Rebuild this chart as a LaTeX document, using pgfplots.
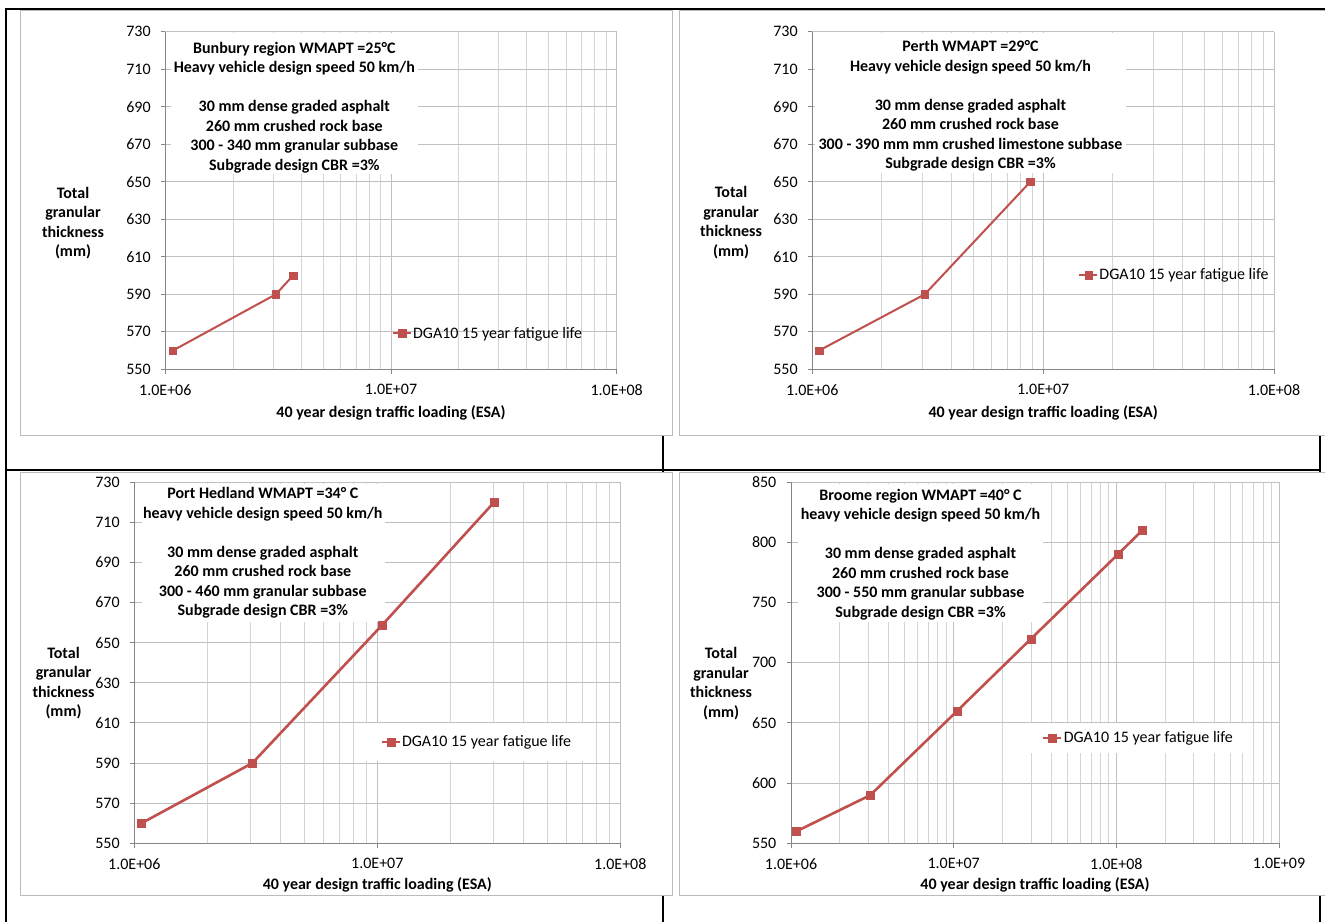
\documentclass[border=0pt]{standalone}
\usepackage{fontspec}
\setmainfont{Carlito}
\usepackage{pgfplots}
\pgfplotsset{compat=1.18}
\definecolor{ser}{HTML}{C0504D}
\definecolor{axl}{HTML}{868686}
\definecolor{gmaj}{HTML}{C0C0C0}
\definecolor{gmin}{HTML}{D4D4D4}
\definecolor{cab}{HTML}{BBBBBB}
\newcommand{\fs}{\fontsize{16}{19.5}\selectfont}
\pgfplotsset{
    scale only axis, enlargelimits=false,
    axis lines*=left,
    axis line style={axl, line width=1pt},
    tick align=outside,
    major tick length=4.5pt, minor tick length=0pt,
    tick style={axl, line width=1pt},
    xmajorgrids, xminorgrids, ymajorgrids,
    major grid style={gmaj, line width=1pt},
    minor grid style={gmin, line width=1pt},
    tick label style={font=\fs},
    yticklabel style={/pgf/number format/assume math mode=true, anchor=east, inner sep=0pt, xshift=-10pt},
    xticklabel style={anchor=center, inner sep=0pt, yshift=-16pt},
    legend cell align=left,
    legend image code/.code={\draw[mark repeat=2,mark phase=2,#1] plot coordinates {(0pt,0pt) (9pt,0pt) (18pt,0pt)};},
}
\begin{document}
\begin{tikzpicture}
\useasboundingbox (0pt,0pt) rectangle (1325pt,-922pt);
\begin{scope}[x=1pt,y=-1pt]
  \draw[line width=2pt] (5,8.5) -- (1325,8.5);
  \draw[line width=2pt] (5.7,8) -- (5.7,922);
  \draw[line width=2pt] (5,470) -- (1320,470);
  \draw[line width=2pt] (663,435) -- (663,922);
  \draw[line width=2pt] (1320,8) -- (1320,922);
  \filldraw[fill=white, draw=cab, line width=1pt] (20.7,10) rectangle (672.7,435);
  \filldraw[fill=white, draw=cab, line width=1pt] (679,10) rectangle (1330,435);
  \filldraw[fill=white, draw=cab, line width=1pt] (20.7,472) rectangle (672.7,895);
  \filldraw[fill=white, draw=cab, line width=1pt] (679,472) rectangle (1330,895);
\end{scope}

% Panel 1: Bunbury
\begin{axis}[xmode=log, at={(165.3pt,-369.3pt)}, anchor=south west,
  width=451.4pt, height=337.6pt,
  xmin=1e6, xmax=1e8, ymin=550, ymax=730, ytick={550,570,...,730},
  xtick={1e6,1e7,1e8}, xticklabels={1.0E+06,1.0E+07,1.0E+08},
  minor xtick={2e6,3e6,4e6,5e6,6e6,7e6,8e6,9e6,2e7,3e7,4e7,5e7,6e7,7e7,8e7,9e7},
  xlabel={40 year design traffic loading (ESA)},
  ylabel={Total\\granular\\thickness\\(mm)},
  xlabel style={font=\bfseries\fs, at={(axis description cs:0.5,-0.1286)}, anchor=center},
  ylabel style={rotate=-90, font=\bfseries\fs, align=center, at={(axis description cs:-0.2045,0.4334)}, anchor=center},
  legend style={font=\fs, draw=none, fill=none, inner sep=0pt, nodes={inner sep=1pt}, at={(rel axis cs:0.502,0.1066)}, anchor=west},
]
\fill[white] (rel axis cs:0.0126,0.9962) rectangle (rel axis cs:0.5605,0.5785);
\node[align=center, font=\bfseries\fs] at (rel axis cs:0.2858,0.776) {Bunbury region WMAPT =25°C\\Heavy vehicle design speed 50 km/h\\[19.5pt]30 mm dense graded asphalt\\260 mm crushed rock base\\300 - 340 mm granular subbase\\Subgrade design CBR =3\%};
\addplot[color=ser, line width=2pt, mark=square*, mark size=3.75pt, mark options={solid, fill=ser, draw=ser, line width=0.4pt}] coordinates {(1.08e6,560) (3.09e6,590) (3.68e6,600)};
\addlegendentry{DGA10 15 year fatigue life}
\end{axis}

% Panel 2: Perth
\begin{axis}[xmode=log, at={(812.3pt,-369.3pt)}, anchor=south west,
  width=461.7pt, height=337.6pt,
  xmin=1e6, xmax=1e8, ymin=550, ymax=730, ytick={550,570,...,730},
  xtick={1e6,1e7,1e8}, xticklabels={1.0E+06,1.0E+07,1.0E+08},
  minor xtick={2e6,3e6,4e6,5e6,6e6,7e6,8e6,9e6,2e7,3e7,4e7,5e7,6e7,7e7,8e7,9e7},
  xlabel={40 year design traffic loading (ESA)},
  ylabel={Total\\granular\\thickness\\(mm)},
  xlabel style={font=\bfseries\fs, at={(axis description cs:0.5,-0.1286)}, anchor=center},
  ylabel style={rotate=-90, font=\bfseries\fs, align=center, at={(axis description cs:-0.176,0.435)}, anchor=center},
  legend style={font=\fs, draw=none, fill=none, inner sep=0pt, nodes={inner sep=1pt}, at={(rel axis cs:0.576,0.2793)}, anchor=west},
]
\fill[white] (rel axis cs:0.0058,0.9962) rectangle (rel axis cs:0.6794,0.5824);
\node[align=center, font=\bfseries\fs] at (rel axis cs:0.3426,0.7805) {Perth WMAPT =29°C\\Heavy vehicle design speed 50 km/h\\[19.5pt]30 mm dense graded asphalt\\260 mm crushed rock base\\300 - 390 mm mm crushed limestone subbase\\Subgrade design CBR =3\%};
\addplot[color=ser, line width=2pt, mark=square*, mark size=3.75pt, mark options={solid, fill=ser, draw=ser, line width=0.4pt}] coordinates {(1.07e6,560) (3.07e6,590) (8.8e6,650)};
\addlegendentry{DGA10 15 year fatigue life}
\end{axis}

% Panel 3: Port Hedland
\begin{axis}[xmode=log, at={(134.3pt,-843.3pt)}, anchor=south west,
  width=486pt, height=361pt,
  xmin=1e6, xmax=1e8, ymin=550, ymax=730, ytick={550,570,...,730},
  xtick={1e6,1e7,1e8}, xticklabels={1.0E+06,1.0E+07,1.0E+08},
  minor xtick={2e6,3e6,4e6,5e6,6e6,7e6,8e6,9e6,2e7,3e7,4e7,5e7,6e7,7e7,8e7,9e7},
  xlabel={40 year design traffic loading (ESA)},
  ylabel={Total\\granular\\thickness\\(mm)},
  xlabel style={font=\bfseries\fs, at={(axis description cs:0.5,-0.1155)}, anchor=center},
  ylabel style={rotate=-90, font=\bfseries\fs, align=center, at={(axis description cs:-0.1457,0.444)}, anchor=center},
  legend style={font=\fs, draw=none, fill=white, inner xsep=15pt, inner ysep=12pt, nodes={inner sep=1pt}, at={(rel axis cs:0.7035,0.281)}, anchor=center},
]
\fill[white] (rel axis cs:0.0158,0.9953) rectangle (rel axis cs:0.5158,0.6139);
\node[align=center, font=\bfseries\fs] at (rel axis cs:0.2644,0.8045) {Port Hedland WMAPT =34° C\\heavy vehicle design speed 50 km/h\\[19.5pt]30 mm dense graded asphalt\\260 mm crushed rock base\\300 - 460 mm granular subbase\\Subgrade design CBR =3\%};
\addplot[color=ser, line width=2.6pt, mark=square*, mark size=4pt, mark options={solid, fill=ser, draw=ser, line width=0.4pt}] coordinates {(1.07e6,560) (3.06e6,590) (1.05e7,659) (3.02e7,720)};
\addlegendentry{DGA10 15 year fatigue life}
\end{axis}

% Panel 4: Broome
\begin{axis}[xmode=log, at={(791pt,-843.3pt)}, anchor=south west,
  width=488pt, height=361pt,
  xmin=1e6, xmax=1e9, ymin=550, ymax=850, ytick={550,600,...,850},
  xtick={1e6,1e7,1e8,1e9}, xticklabels={1.0E+06,1.0E+07,1.0E+08,1.0E+09},
  minor xtick={2e6,3e6,4e6,5e6,6e6,7e6,8e6,9e6,2e7,3e7,4e7,5e7,6e7,7e7,8e7,9e7,2e8,3e8,4e8,5e8,6e8,7e8,8e8,9e8},
  xlabel={40 year design traffic loading (ESA)},
  ylabel={Total\\granular\\thickness\\(mm)},
  xlabel style={font=\bfseries\fs, at={(axis description cs:0.5,-0.1155)}, anchor=center},
  ylabel style={rotate=-90, font=\bfseries\fs, align=center, at={(axis description cs:-0.1434,0.4427)}, anchor=center},
  legend style={font=\fs, draw=none, fill=white, inner xsep=19pt, inner ysep=8pt, nodes={inner sep=1pt}, at={(rel axis cs:0.711,0.2917)}, anchor=center},
]
\fill[white] (rel axis cs:0.0143,0.9953) rectangle (rel axis cs:0.517,0.6139);
\node[align=center, font=\bfseries\fs] at (rel axis cs:0.2654,0.8) {Broome region WMAPT =40° C\\heavy vehicle design speed 50 km/h\\[19.5pt]30 mm dense graded asphalt\\260 mm crushed rock base\\300 - 550 mm granular subbase\\Subgrade design CBR =3\%};
\addplot[color=ser, line width=2.6pt, mark=square*, mark size=4pt, mark options={solid, fill=ser, draw=ser, line width=0.4pt}] coordinates {(1.08e6,560) (3.07e6,590) (1.05e7,660) (2.99e7,720) (1.02e8,790) (1.44e8,810)};
\addlegendentry{DGA10 15 year fatigue life}
\end{axis}
\end{tikzpicture}
\end{document}
